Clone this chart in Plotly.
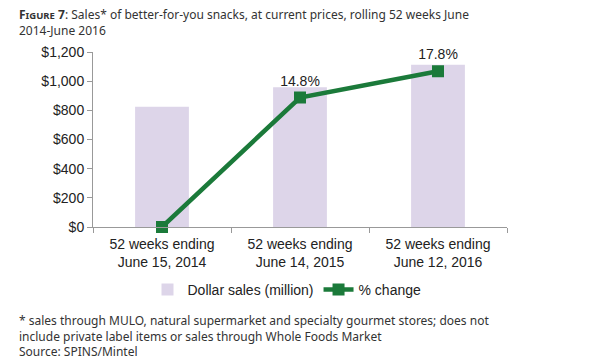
import plotly.graph_objects as go

categories = ["52 weeks ending<br>June 15, 2014", "52 weeks ending<br>June 14, 2015", "52 weeks ending<br>June 12, 2016"]
dollar_sales = [825, 958, 1112]
pct_change = [0, 14.8, 17.8]
pct_labels = ["", "14.8%", "17.8%"]
y_ticks = [0, 200, 400, 600, 800, 1000, 1200]
y_ticklabels = ["$0", "$200", "$400", "$600", "$800", "$1,000", "$1,200"]

W, H = 613, 360
L, R, T, B = 93, 106, 52, 133
PW, PH = W - L - R, H - T - B

def px(xp):
    return (xp - L) / PW

def py(yp):
    return (H - B - yp) / PH

fig = go.Figure()
fig.add_trace(go.Bar(
    x=categories, y=dollar_sales, name="Dollar sales (million)",
    marker=dict(color="#DDD5E9", line=dict(width=0)), width=0.39,
    yaxis="y",
))
fig.add_trace(go.Scatter(
    x=categories, y=pct_change, name="% change", yaxis="y2",
    mode="lines+markers+text", text=pct_labels, textposition="top center",
    textfont=dict(family="Liberation Sans, Arial", size=14, color="#222"),
    line=dict(color="#1B7A3A", width=4.5),
    marker=dict(symbol="square", size=12, color="#1B7A3A"),
    cliponaxis=False,
))

axis_font = dict(family="Liberation Sans, Arial", size=14, color="#222")
fig.update_layout(
    width=W, height=H,
    margin=dict(l=L, r=R, t=T, b=B, autoexpand=False),
    paper_bgcolor="white", plot_bgcolor="white",
    showlegend=True,
    legend=dict(orientation="h", x=px(287), xanchor="center", y=py(290), yanchor="middle",
                font=dict(family="Liberation Sans, Arial", size=14, color="#222"),
                traceorder="normal", itemwidth=30, tracegroupgap=0),
    xaxis=dict(showline=True, linecolor="#999", linewidth=1, ticks="outside",
               tickson="boundaries", ticklen=5, tickcolor="#999",
               tickfont=axis_font, showgrid=False, automargin=False,
               ticklabelstandoff=4),
    yaxis=dict(range=[0, 1200], tickvals=y_ticks, ticktext=y_ticklabels,
               showline=True, linecolor="#999", linewidth=1, ticks="outside",
               ticklen=5, tickcolor="#999", tickfont=axis_font, showgrid=False,
               zeroline=False, automargin=False),
    yaxis2=dict(range=[0, 20], overlaying="y", side="right", visible=False,
                showgrid=False, zeroline=False),
    bargap=0.61,
)

text_font = dict(family="Noto Sans, DejaVu Sans", size=12, color="#333")
title_text = ("<b>F<span style='font-size:9.5px'>IGURE</span> 7</b>: Sales* of better-for-you snacks, "
              "at current prices, rolling 52 weeks June<br>2014-June 2016")
fig.add_annotation(xref="paper", yref="paper", x=px(17), y=py(4),
                   xanchor="left", yanchor="top", align="left", showarrow=False,
                   text=title_text, font=text_font)

foot_text = ("* sales through MULO, natural supermarket and specialty gourmet stores; does not<br>"
             "include private label items or sales through Whole Foods Market<br>"
             "Source: SPINS/Mintel")
fig.add_annotation(xref="paper", yref="paper", x=px(17), y=py(310),
                   xanchor="left", yanchor="top", align="left", showarrow=False,
                   text=foot_text, font=text_font)

fig.write_html("out.html", config={"displayModeBar": False},
               post_script="document.body.style.margin='0';document.body.style.overflow='hidden';")
